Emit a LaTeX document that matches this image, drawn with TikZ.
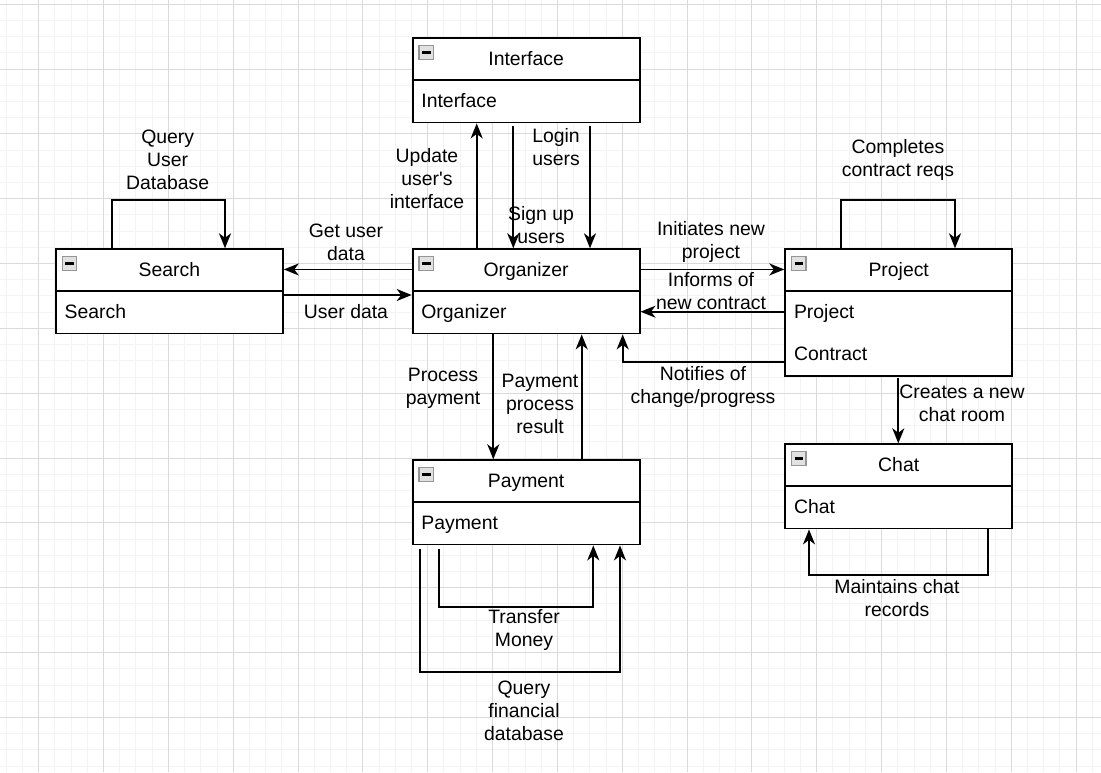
\documentclass[tikz,border=0pt]{standalone}
\usepackage{fontspec}
\setmainfont{Liberation Sans}
\usetikzlibrary{arrows.meta,calc}
\definecolor{minorgrid}{RGB}{243,243,243}
\definecolor{majorgrid}{RGB}{218,218,218}
\definecolor{iconborder}{RGB}{150,150,150}
\definecolor{iconfill}{RGB}{225,225,225}
\tikzset{
  classbox/.style={draw=black, line width=1.8pt, fill=white, minimum width=227pt, inner sep=0pt, anchor=north west},
  boxline/.style={draw=black, line width=1.8pt},
  txt/.style={font=\fontsize{19.4}{23}\selectfont, inner sep=0pt},
  title/.style={txt, anchor=base},
  field/.style={txt, anchor=base west},
  lbl/.style={txt, align=center},
  icon/.style={draw=iconborder, fill=iconfill, line width=1.4pt, minimum width=14.5pt, minimum height=14.5pt, inner sep=0pt},
  minus/.style={draw=black, line width=2.2pt},
  arr/.style={draw=black, line width=1.8pt, -{Stealth[length=15pt,width=12pt,inset=4.5pt]}}
}
\newcommand\umlbox[5]{%
  \node[classbox, minimum height=#4pt] (#1) at (#2,#3) {};
  \draw[boxline] ([yshift=-42.3pt]#1.north west) -- ([yshift=-42.3pt]#1.north east);
  \node[title] (#1-t) at ([yshift=-28.4pt]#1.north) {#5};
  \node[icon] (#1-i) at ([xshift=14.5pt,yshift=-15.2pt]#1.north west) {};
  \draw[minus] ([xshift=-4.3pt]#1-i.center) -- ([xshift=4.3pt]#1-i.center);
}
\begin{document}
\begin{tikzpicture}[x=1pt,y=-1pt]
\fill[white] (0,0) rectangle (1101,772);
\useasboundingbox (0,0) rectangle (1101,772);
% grid
\foreach \i in {-2,...,65} \draw[minorgrid, line width=1pt] ({38.7+16.21*\i},0) -- ({38.7+16.21*\i},772);
\foreach \j in {0,...,48} \draw[minorgrid, line width=1pt] (0,{4.2+16.21*\j}) -- (1101,{4.2+16.21*\j});
\foreach \i in {0,...,16} \draw[majorgrid, line width=1pt] ({38.7+64.84*\i},0) -- ({38.7+64.84*\i},772);
\foreach \j in {0,...,12} \draw[majorgrid, line width=1pt] (0,{4.2+64.84*\j}) -- (1101,{4.2+64.84*\j});

% boxes
\umlbox{iface}{411.7}{37.3}{84.3}{Interface}
\node[field] (iface-f1) at ([xshift=9.5pt,yshift=-70.3pt]iface.north west) {Interface};
\umlbox{search}{55}{248.3}{84.3}{Search}
\node[field] (search-f1) at ([xshift=9.5pt,yshift=-70.3pt]search.north west) {Search};
\umlbox{org}{411.7}{248.3}{84.3}{Organizer}
\node[field] (org-f1) at ([xshift=9.5pt,yshift=-70.3pt]org.north west) {Organizer};
\umlbox{proj}{784.3}{248.3}{126.7}{Project}
\node[field] (proj-f1) at ([xshift=9.5pt,yshift=-70.3pt]proj.north west) {Project};
\node[field] (proj-f2) at ([xshift=9.5pt,yshift=-112.5pt]proj.north west) {Contract};
\umlbox{chat}{784.3}{443.3}{84.3}{Chat}
\node[field] (chat-f1) at ([xshift=9.5pt,yshift=-70.3pt]chat.north west) {Chat};
\umlbox{pay}{411.7}{459.3}{84.3}{Payment}
\node[field] (pay-f1) at ([xshift=9.5pt,yshift=-70.3pt]pay.north west) {Payment};

% connectors
\draw[arr] ([xshift=56.7pt]search.north west) -- ++(0,-48.3) -| ([xshift=170pt]search.north west);
\draw[arr] ([yshift=-21.15pt]org.north west) -- ([yshift=-21.15pt]search.north east);
\draw[arr] ([yshift=-46.7pt]search.north east) -- ([yshift=-46.7pt]org.north west);
\draw[arr] ([xshift=65pt]org.north west) -- ([xshift=65pt]org.north west |- iface.south);
\draw[arr] ([xshift=101.6pt,yshift=-3pt]iface.south west) -- ([xshift=101.6pt]iface.south west |- org.north);
\draw[arr] ([xshift=178.3pt,yshift=-3pt]iface.south west) -- ([xshift=178.3pt]iface.south west |- org.north);
\draw[arr] ([yshift=-21.15pt]org.north east) -- ([yshift=-21.15pt]proj.north west);
\draw[arr] ([yshift=-63.4pt]proj.north west) -- ([yshift=-63.4pt]org.north east);
\draw[arr] ([yshift=-113.4pt]proj.north west) -| ([xshift=211pt]org.south west);
\draw[arr] ([xshift=81.6pt]org.south west) -- ([xshift=81.6pt]org.south west |- pay.north);
\draw[arr] ([xshift=170pt]pay.north west) -- ([xshift=170pt]pay.north west |- org.south);
\draw[arr] ([xshift=27.3pt,yshift=-4pt]pay.south west) -- ++(0,57.7) -| ([xshift=181.6pt]pay.south west);
\draw[arr] ([xshift=8.3pt,yshift=-4pt]pay.south west) -- ++(0,122.7) -| ([xshift=208.3pt]pay.south west);
\draw[arr] ([xshift=114pt,yshift=-1.5pt]proj.south west) -- ([xshift=114pt]proj.south west |- chat.north);
\draw[arr] ([xshift=204pt]chat.south west) -- ++(0,45.4) -| ([xshift=24.7pt]chat.south west);
\draw[arr] ([xshift=56.7pt]proj.north west) -- ++(0,-48.3) -| ([xshift=170.7pt]proj.north west);

% labels
\node[lbl] (l-query) at (167.7,160) {Query\\User\\Database};
\node[lbl] (l-get) at (346,242) {Get user\\data};
\node[lbl] (l-user) at (346,312) {User data};
\node[lbl] (l-update) at (427,179) {Update\\user\textquotesingle s\\interface};
\node[lbl] (l-login) at (556,147) {Login\\users};
\node[lbl] (l-sign) at (541,225) {Sign up\\users};
\node[lbl] (l-init) at (711,242) {Initiates new\\project};
\node[lbl] (l-inform) at (711,291) {Informs of\\new contract};
\node[lbl] (l-notify) at (703,387) {Notifies of\\change/progress};
\node[lbl] (l-process) at (443,388) {Process\\payment};
\node[lbl] (l-result) at (540,404) {Payment\\process\\result};
\node[lbl] (l-complete) at (898,160) {Completes\\contract reqs};
\node[lbl] (l-create) at (962,403) {Creates a new\\chat room};
\node[lbl] (l-transfer) at (524,630) {Transfer\\Money};
\node[lbl] (l-qfin) at (524,711) {Query\\financial\\database};
\node[lbl] (l-maintain) at (897,598) {Maintains chat\\records};
\end{tikzpicture}
\end{document}
